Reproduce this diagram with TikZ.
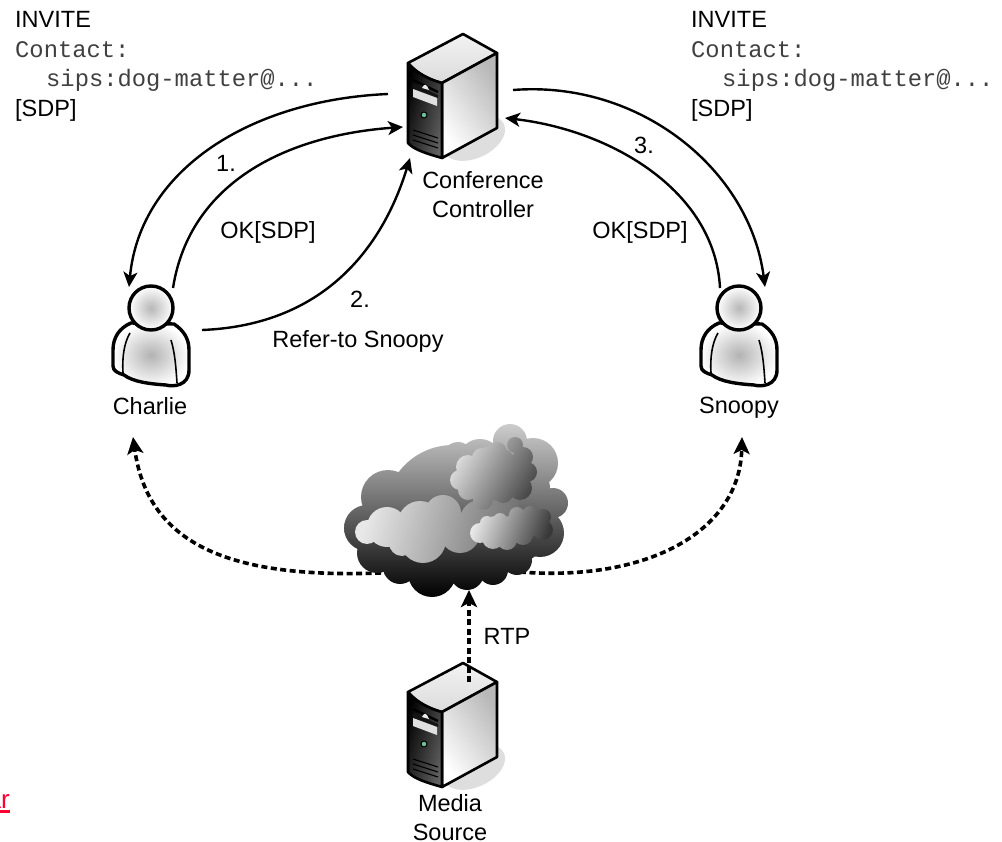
\documentclass[tikz,border=0pt]{standalone}
\usepackage{fontspec}
\setmainfont{Liberation Sans}
\setmonofont{Liberation Mono}
\usetikzlibrary{arrows.meta}
\definecolor{linkred}{RGB}{255,0,51}
\definecolor{ledgreen}{RGB}{110,190,150}
\tikzset{
	iconbox/.style={inner sep=0pt, minimum size=0pt},
	lbl/.style={font=\fontsize{23.5}{29}\selectfont, align=center, inner sep=0pt},
	lblw/.style={lbl, anchor=base west},
	monow/.style={font=\fontsize{23.8}{28}\selectfont\ttfamily, anchor=base west, inner sep=0pt, text=black!75},
	sipline/.style={line width=2.4pt, -{Stealth[length=15pt,width=14pt,inset=4pt]}},
	rtpline/.style={line width=3.6pt, dash pattern=on 6pt off 3.5pt, -{Stealth[length=17pt,width=16pt,inset=4pt]}},
	servericon/.pic={
		\fill[black!13, shift={(22,42)}, rotate=25] (0,0) ellipse (33 and 20);
		\draw[line width=2.6pt, line join=round, top color=black!5, bottom color=black!14] (-44,-33) -- (11,-62) -- (45,-43) -- (-10,-13) .. controls (-22,-16) and (-36,-23) .. cycle;
		\draw[line width=2.6pt, line join=round, left color=white, right color=black!28, shading angle=125] (-10,-13) -- (45,-43) -- (45,32) -- (-10,62) -- cycle;
		\draw[line width=2.6pt, line join=round, left color=black, right color=black!62, shading angle=75] (-44,-33) .. controls (-36,-23) and (-22,-16) .. (-10,-13) -- (-10,62) .. controls (-24,58) and (-38,54) .. (-44,47) -- cycle;
		\draw[line width=2.4pt] (-39,-16) -- (-14,-4);
		\fill[black!92] (-39,-12) -- (-14,-1) -- (-14,2) -- (-39,-8) -- cycle;
		\fill[black!12] (-39,-7) -- (-15,2) -- (-15,10) -- (-39,1) -- cycle;
		\fill[black!8] (-30,-8) .. controls (-28,-13) and (-25,-12) .. (-23,-6) -- cycle;
		\draw[line width=1pt, fill=ledgreen] (-28,19) circle (3);
		\draw[line width=1.1pt] (-39,34) -- (-14,42) (-39,39) -- (-14,47) (-39,44) -- (-14,52);
	},
	usericon/.pic={
		\draw[line width=3.4pt, line join=round, inner color=black!30, outer color=white] (-20,15) .. controls (-32,20) and (-38,30) .. (-38,42) -- (-38,58) .. controls (-38,63) and (-33,65) .. (-27,67) .. controls (-18,74) and (0,76) .. (15,77) .. controls (22,79) and (38,78) .. (38,62) -- (38,42) .. controls (38,30) and (32,22) .. (23,16) -- cycle;
		\draw[line width=1.6pt] (-21,25) .. controls (-27,35) and (-29,50) .. (-28,65);
		\draw[line width=1.6pt] (20,32) .. controls (24,45) and (25,60) .. (26,75);
		\draw[line width=3.4pt, inner color=black!28, outer color=white] (0,0) circle (22);
	}
}
\begin{document}
\begin{tikzpicture}[x=1pt, y=-1pt]
	\useasboundingbox (0,0) rectangle (1002,842);
	\node[iconbox] (ctrl) at (452,96) {};
	\node[iconbox] (media) at (452,725) {};
	\node[iconbox] (charlie) at (151,308) {};
	\node[iconbox] (snoopy) at (739,308) {};
	\node[iconbox] (cloud) at (455,510) {};
	\draw[rtpline] ([shift={(-55,62)}]cloud.center) .. controls (230,582) and (148,545) .. ([shift={(-18,129)}]charlie.center);
	\draw[rtpline] ([shift={(65,62)}]cloud.center) .. controls (650,582) and (740,530) .. ([shift={(3,129)}]snoopy.center);
	\path[top color=black!20, bottom color=black]
		\foreach \cx/\cy/\cr in {510/441/17, 533/463/25, 480/461/22, 458/457/15, 428/477/23, 388/497/27, 367/528/23, 377/553/20, 553/503/15, 540/533/24, 517/560/15, 432/573/24, 400/567/17, 467/573/17, 493/570/15, 453/513/68, 505/490/45, 510/525/40} {(\cx,\cy) circle (\cr)};
	\path[left color=black!9, right color=black!55, shading angle=75]
		\foreach \cx/\cy/\cr in {367/532/12, 387/527/20, 420/523/22, 423/540/23, 402/543/13, 443/513/18, 460/533/20, 480/520/20, 500/513/17, 507/507/12} {(\cx,\cy) circle (\cr)};
	\path[left color=black!12, right color=black!72, shading angle=60]
		\foreach \cx/\cy/\cr in {460/480/10, 468/467/12, 482/458/10, 497/452/10, 515/445/8, 523/457/10, 527/472/10, 520/488/12, 503/493/10, 483/500/10, 468/490/10, 493/473/27} {(\cx,\cy) circle (\cr)};
	\path[left color=black!9, right color=black!78, shading angle=70]
		\foreach \cx/\cy/\cr in {480/533/10, 493/538/11, 507/540/10, 523/535/10, 543/530/10, 543/517/8, 530/513/7, 517/515/8, 500/520/7, 487/523/7, 513/528/13, 495/528/12, 530/525/12} {(\cx,\cy) circle (\cr)};
	\pic at (ctrl) {servericon};
	\pic at (media) {servericon};
	\pic at (charlie) {usericon};
	\pic at (snoopy) {usericon};
	\draw[rtpline] ([shift={(17,-43)}]media.center) -- ([shift={(14,80)}]cloud.center);
	\draw[sipline] ([shift={(-64,-2)}]ctrl.center) .. controls (250,100) and (140,170) .. ([shift={(-22,-21)}]charlie.center);
	\draw[sipline] ([shift={(22,-20)}]charlie.center) .. controls (190,180) and (290,135) .. ([shift={(-49,31)}]ctrl.center);
	\draw[sipline] ([shift={(51,22)}]charlie.center) .. controls (330,325) and (385,240) .. ([shift={(-42,62)}]ctrl.center);
	\draw[sipline] ([shift={(61,-6)}]ctrl.center) .. controls (640,80) and (750,170) .. ([shift={(26,-21)}]snoopy.center);
	\draw[sipline] ([shift={(-19,-20)}]snoopy.center) .. controls (715,190) and (610,130) .. ([shift={(53,22)}]ctrl.center);
	\node[lblw] (invitea) at (15,28) {INVITE};
	\node[monow] (contacta) at (15,58) {Contact:};
	\node[monow] (sipsa) at (46,87) {sips:dog-matter@...};
	\node[lblw] (sdpa) at (15,117) {[SDP]};
	\node[lblw] (inviteb) at (691,28) {INVITE};
	\node[monow] (contactb) at (691,58) {Contact:};
	\node[monow] (sipsb) at (722,87) {sips:dog-matter@...};
	\node[lblw] (sdpb) at (691,117) {[SDP]};
	\node[lbl] (ctrllbl) at (483,195) {Conference\\Controller};
	\node[lbl] (medialbl) at (450,818) {Media\\Source};
	\node[lbl] (charlielbl) at (150,406) {Charlie};
	\node[lbl] (snoopylbl) at (739,408) {Snoopy};
	\node[lbl] (stepa) at (226,163) {1.};
	\node[lbl] (stepb) at (360,299) {2.};
	\node[lbl] (stepc) at (644,145) {3.};
	\node[lbl] (oka) at (268,232) {OK[SDP]};
	\node[lbl] (okb) at (640,232) {OK[SDP]};
	\node[lbl] (refer) at (358,341) {Refer-to Snoopy};
	\node[lbl] (rtp) at (507,636) {RTP};
	\node[anchor=base east, inner sep=0pt, text=linkred, font=\fontsize{26}{30}\selectfont] (linkfrag) at (10,808) {ar};
	\draw[linkred, line width=3pt] ([shift={(0,3)}]linkfrag.south west) -- ([shift={(0,3)}]linkfrag.south east);
\end{tikzpicture}
\end{document}
